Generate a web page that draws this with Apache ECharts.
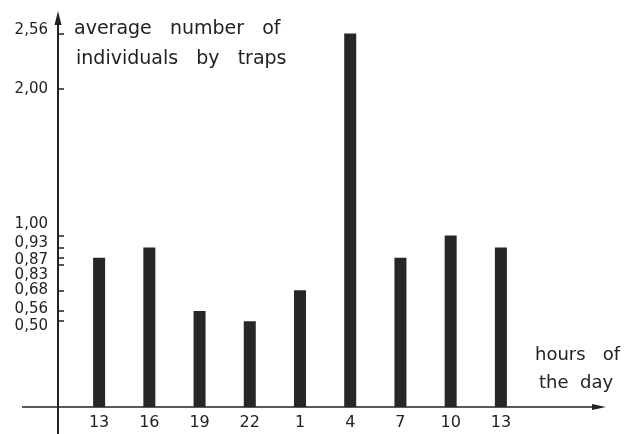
<!DOCTYPE html>
<html><head><meta charset="utf-8">
<script src="https://cdn.jsdelivr.net/npm/echarts@6.0.0/dist/echarts.min.js"></script>
<style>html,body{margin:0;padding:0;background:#fff}#c{width:625px;height:434px}</style>
</head><body><div id="c"></div>
<script>
// ---- data ----
const hours = ['13', '16', '19', '22', '1', '4', '7', '10', '13'];
const individuals = [0.87, 0.93, 0.56, 0.50, 0.68, 2.56, 0.87, 1.00, 0.93];
const yTicks = [0.50, 0.56, 0.68, 0.83, 0.87, 0.93, 1.00, 2.00, 2.56];

// ---- styling ----
const FONT = '"DejaVu Sans", sans-serif';
const INK = '#222';
// vertical nudges (px, + = down) for the crowded hand-lettered tick labels
const labelNudge = { '0,50': 5, '0,56': -2, '0,68': 0, '0,83': 11, '0,87': 2, '0,93': -4, '1,00': -11, '2,00': 0, '2,56': -3 };
const fmt = v => v.toFixed(2).replace('.', ',');

const rich = {};
yTicks.forEach((v, i) => {
  const d = labelNudge[fmt(v)] || 0;
  rich['t' + i] = {
    fontSize: 15, fontFamily: FONT, color: INK,
    padding: d > 0 ? [2 * d, 0, 0, 0] : [0, 0, -2 * d, 0]
  };
});

const chart = echarts.init(document.getElementById('c'), null, { renderer: 'canvas' });
const txt = (size) => ({ fontSize: size, fontWeight: 'normal', fontFamily: FONT, color: INK });

chart.setOption({
  animation: false,
  backgroundColor: '#fff',
  title: [
    { text: 'average   number   of', left: 74, top: 20, padding: 0, textStyle: txt(19) },
    { text: 'individuals   by   traps', left: 76, top: 50, padding: 0, textStyle: txt(19) },
    { text: 'hours   of', left: 535, top: 346, padding: 0, textStyle: txt(18) },
    { text: 'the  day', left: 539, top: 374, padding: 0, textStyle: txt(18) }
  ],
  grid: { left: 74, right: 99, top: 13, bottom: 27, containLabel: false },
  xAxis: {
    type: 'category',
    data: hours,
    boundaryGap: true,
    axisLine: { show: false },
    axisTick: { show: false },
    splitLine: { show: false },
    axisLabel: { margin: 8, fontSize: 16, fontFamily: FONT, color: INK, interval: 0 }
  },
  yAxis: {
    type: 'value',
    min: 0,
    max: 2.68,
    offset: 16,
    breaks: [
      { start: 1.05, end: 1.95, gap: '32.9%' },
      { start: 2.05, end: 2.45, gap: '7%' }
    ],
    breakArea: { show: false },
    axisLine: { show: false, onZero: false },
    axisTick: { show: true, inside: true, length: 6, customValues: yTicks,
      lineStyle: { color: INK, width: 1.5 } },
    axisLabel: {
      show: true, margin: 10, customValues: yTicks,
      formatter: (v) => {
        const i = yTicks.findIndex(t => Math.abs(t - v) < 1e-6);
        return i < 0 ? '' : '{t' + i + '|' + fmt(v) + '}';
      },
      rich: rich
    },
    splitLine: { show: false }
  },
  series: [{
    type: 'bar',
    data: individuals,
    barWidth: 12,
    itemStyle: { color: '#272727' },
    silent: true
  }],
  graphic: [
    // hand-drawn style axis lines with arrow heads (extend beyond the plot area)
    { type: 'line', shape: { x1: 22, y1: 407, x2: 598, y2: 407 }, style: { stroke: INK, lineWidth: 1.5 } },
    { type: 'polygon', shape: { points: [[606, 407], [592, 404], [592, 410]] }, style: { fill: INK } },
    { type: 'line', shape: { x1: 58, y1: 434, x2: 58, y2: 22 }, style: { stroke: INK, lineWidth: 2 } },
    { type: 'polygon', shape: { points: [[58, 11], [54.5, 25], [61.5, 25]] }, style: { fill: INK } }
  ]
});
</script>
</body></html>
